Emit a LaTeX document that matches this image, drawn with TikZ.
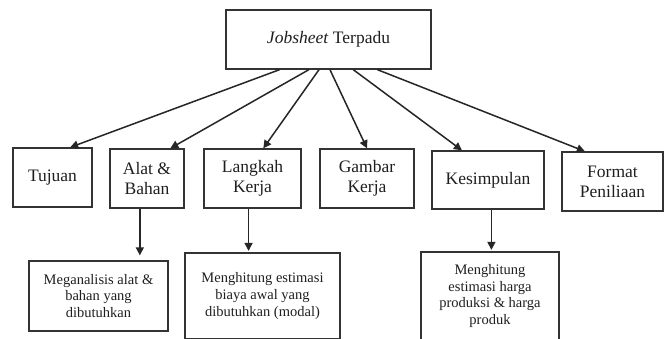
\documentclass[tikz,border=0pt]{standalone}
\usepackage{fontspec}
\setmainfont{Liberation Serif}
\usetikzlibrary{arrows.meta,calc}
\begin{document}
\begin{tikzpicture}[x=1pt,y=1pt,
  box/.style={draw=black!80,line width=1.3pt,inner sep=0pt,align=center,text=black!88},
  midbox/.style={box,font=\fontsize{17.5}{20}\selectfont,minimum height=59pt},
  lowbox/.style={box,font=\fontsize{14.5}{16.8}\selectfont},
  conn/.style={draw=black!85,line width=1.5pt,-{Triangle[length=8pt,width=8pt]}}]
\useasboundingbox (0,0) rectangle (666,-338);
\fill[white] (0,0) rectangle (666,-338);
\node[box,font=\fontsize{17.5}{20}\selectfont,minimum width=205pt,minimum height=59pt] (top) at (328.5,-39.5) {\textit{Jobsheet} Terpadu};
\node[midbox,minimum width=79pt] (tujuan) at (52.5,-177.5) {Tujuan};
\node[midbox,minimum width=74pt] (alat) at (147,-178.5) {Alat \&\\Bahan};
\node[midbox,minimum width=97pt] (langkah) at (252.5,-178.5) {Langkah\\Kerja};
\node[midbox,minimum width=94pt] (gambar) at (367,-178.5) {Gambar\\Kerja};
\node[midbox,minimum width=112pt,minimum height=58pt] (kesimpulan) at (488,-180) {Kesimpulan};
\node[midbox,minimum width=101pt] (format) at (612.5,-181.5) {Format\\Peniliaan};
\node[lowbox,minimum width=139pt,minimum height=70pt] (meg) at (98.5,-296) {Meganalisis alat \&\\bahan yang\\dibutuhkan};
\node[lowbox,minimum width=155pt,minimum height=86pt] (biaya) at (262.5,-296) {Menghitung estimasi\\biaya awal yang\\dibutuhkan (modal)};
\node[lowbox,minimum width=138pt,minimum height=88pt] (harga) at (490,-296) {Menghitung\\estimasi harga\\produksi \& harga\\produk};
\draw[conn] ($(top.south west)!0.263!(top.south east)$) -- ($(tujuan.north west)!0.72!(tujuan.north east)$);
\draw[conn] ($(top.south west)!0.405!(top.south east)$) -- ($(alat.north west)!0.81!(alat.north east)$);
\draw[conn] ($(top.south west)!0.454!(top.south east)$) -- ($(langkah.north west)!0.61!(langkah.north east)$);
\draw[conn] ($(top.south west)!0.507!(top.south east)$) -- ($(gambar.north west)!0.5!(gambar.north east)$);
\draw[conn] ($(top.south west)!0.62!(top.south east)$) -- ($(kesimpulan.north west)!0.27!(kesimpulan.north east)$);
\draw[conn] ($(top.south west)!0.737!(top.south east)$) -- ($(format.north west)!0.23!(format.north east)$);
\coordinate (a1) at ($(alat.south west)!0.405!(alat.south east)$);
\coordinate (l1) at ($(langkah.south west)!0.46!(langkah.south east)$);
\coordinate (k1) at ($(kesimpulan.south west)!0.53!(kesimpulan.south east)$);
\draw[conn,shorten >=5pt] (a1) -- (a1 |- meg.north);
\draw[conn,shorten >=1.5pt] (l1) -- (l1 |- biaya.north);
\draw[conn,shorten >=1.5pt] (k1) -- (k1 |- harga.north);
\end{tikzpicture}
\end{document}
